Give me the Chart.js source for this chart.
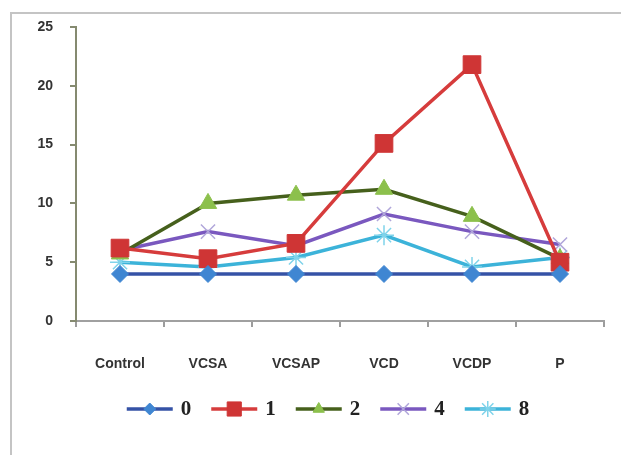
<!DOCTYPE html>
<html>
<head>
<meta charset="utf-8">
<script src="https://cdn.jsdelivr.net/npm/chart.js@4.4.1/dist/chart.umd.min.js"></script>
<style>
  html, body { margin: 0; padding: 0; background: #fff; overflow: hidden; }
  #frame { position: absolute; left: 10px; top: 12px; width: 700px; height: 520px;
           border: 2px solid #c4c4c4; box-sizing: border-box; }
  #wrap { position: absolute; left: 0; top: 0; width: 621px; height: 455px; }
</style>
</head>
<body>
<div id="frame"></div>
<div id="wrap"><canvas id="chart" width="621" height="455"></canvas></div>
<script>
// Treatment groups along the x axis
const categories = ['Control', 'VCSA', 'VCSAP', 'VCD', 'VCDP', 'P'];

// Series, one per time point
const seriesNames = ['0', '1', '2', '4', '8'];
const values0 = [4.0, 4.0, 4.0, 4.0, 4.0, 4.0];
const values1 = [6.2, 5.3, 6.6, 15.1, 21.8, 5.0];
const values2 = [5.7, 10.0, 10.7, 11.2, 8.9, 5.3];
const values4 = [6.0, 7.6, 6.4, 9.1, 7.6, 6.5];
const values8 = [5.0, 4.6, 5.4, 7.3, 4.6, 5.4];

// Y axis range and tick step
const yMin = 0;
const yMax = 25;
const yStep = 5;

const styles = [
  { line: '#3552a6', fill: '#3f86d2', stroke: '#3f86d2', point: 'rectRot', r: 8.5, lr: 6 },
  { line: '#d63c3c', fill: '#cf3535', stroke: '#cf3535', point: 'rect', r: 12.5, lr: 10 },
  { line: '#46601c', fill: '#8cc04c', stroke: '#8cc04c', point: 'triangle', r: 10, lr: 6.5 },
  { line: '#7a58bf', fill: 'rgba(0,0,0,0)', stroke: '#b0a6da', point: 'crossRot', r: 10, lr: 8 },
  { line: '#3cb3d9', fill: 'rgba(0,0,0,0)', stroke: '#7fd3ea', point: 'star', r: 10, lr: 8 }
];

const seriesValues = [values0, values1, values2, values4, values8];

const datasets = seriesValues.map((vals, i) => ({
  label: seriesNames[i],
  data: vals,
  borderColor: styles[i].line,
  borderWidth: 3.5,
  pointStyle: styles[i].point,
  pointRadius: styles[i].r,
  pointHoverRadius: styles[i].r,
  pointBackgroundColor: styles[i].fill,
  pointBorderColor: styles[i].stroke,
  pointBorderWidth: (styles[i].point === 'crossRot' || styles[i].point === 'star') ? 1.5 : 1,
  tension: 0,
  fill: false
}));

// Legend drawn as line + marker + label, centred under the plot
const lineLegend = {
  id: 'lineLegend',
  afterDraw(chart) {
    const ctx = chart.ctx;
    const y = 409;
    const lineLen = 46, gapText = 8, gapItem = 20;
    ctx.save();
    ctx.font = 'bold 21px "Liberation Serif", serif';
    ctx.textBaseline = 'middle';
    const widths = chart.data.datasets.map(d => lineLen + gapText + ctx.measureText(d.label).width);
    const total = widths.reduce((a, b) => a + b, 0) + gapItem * (widths.length - 1);
    let x = (chart.chartArea.left + chart.chartArea.right) / 2 - 12 - total / 2;
    chart.data.datasets.forEach((d, i) => {
      const st = styles[i];
      ctx.strokeStyle = d.borderColor;
      ctx.lineWidth = 3.5;
      ctx.beginPath();
      ctx.moveTo(x, y);
      ctx.lineTo(x + lineLen, y);
      ctx.stroke();
      ctx.fillStyle = st.fill;
      ctx.strokeStyle = st.stroke;
      ctx.lineWidth = d.pointBorderWidth;
      Chart.helpers.drawPoint(ctx, { pointStyle: st.point, radius: st.lr, rotation: 0, borderWidth: d.pointBorderWidth }, x + lineLen / 2, y);
      ctx.fillStyle = '#222';
      ctx.textAlign = 'left';
      ctx.fillText(d.label, x + lineLen + gapText, y + 1);
      x += widths[i] + gapItem;
    });
    ctx.restore();
  }
};

new Chart(document.getElementById('chart'), {
  type: 'line',
  data: { labels: categories, datasets },
  plugins: [lineLegend],
  options: {
    responsive: false,
    animation: false,
    layout: { padding: { top: 27, right: 17, bottom: 0, left: 0 } },
    plugins: {
      legend: { display: false },
      tooltip: { enabled: false }
    },
    scales: {
      x: {
        offset: true,
        grid: { offset: true, drawOnChartArea: false, drawTicks: true, tickLength: 6, color: '#9c9c9c', lineWidth: 2 },
        border: { color: '#a0a0a0', width: 2 },
        ticks: { color: '#333', padding: 29, maxRotation: 0,
                 font: { family: '"Liberation Sans", Arial, sans-serif', size: 14, weight: 'bold' } },
        afterFit(scale) { scale.height = 134; }
      },
      y: {
        min: yMin,
        max: yMax,
        grid: { drawOnChartArea: false, drawTicks: true, tickLength: 6, color: '#858a70', lineWidth: 2 },
        border: { color: '#858a70', width: 2 },
        ticks: { stepSize: yStep, color: '#333', padding: 17,
                 font: { family: '"Liberation Sans", Arial, sans-serif', size: 14, weight: 'bold' } },
        afterFit(scale) { scale.width = 76; }
      }
    }
  }
});
</script>
</body>
</html>
